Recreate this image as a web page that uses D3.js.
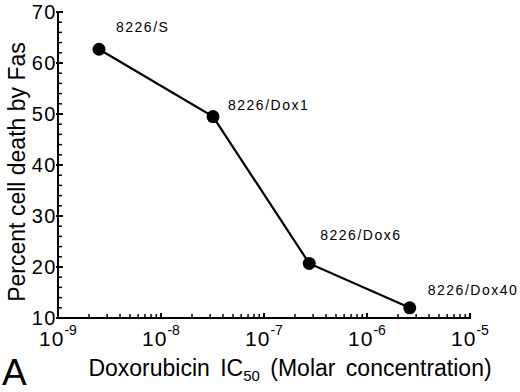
<!DOCTYPE html>
<html>
<head>
<meta charset="utf-8">
<script src="https://cdn.jsdelivr.net/npm/d3@7"></script>
<style>
  body { margin: 0; background: #fff; }
  svg { display: block; font-family: "Liberation Sans", Arial, Helvetica, sans-serif; }
</style>
</head>
<body>
<div id="chart"></div>
<script>
// data
const cellLines = ["8226/S", "8226/Dox1", "8226/Dox6", "8226/Dox40"];
const ic50 = [2.5e-9, 3.2e-8, 2.75e-7, 2.6e-6];
const fasDeath = [62.7, 49.5, 20.7, 12.0];
const yTicks = [10, 20, 30, 40, 50, 60, 70];
const xExponents = [-9, -8, -7, -6, -5];

// where each point label sits relative to its dot (px)
const labelNudge = [[17, -17], [15, -7], [11, -23], [18, -13]];

const width = 520, height = 392;

const svg = d3.select("#chart")
  .append("svg")
    .attr("width", width)
    .attr("height", height);

// scales
const x = d3.scaleLog()
  .domain([1e-9, 1e-5])
  .range([58, 470]);

const y = d3.scaleLinear()
  .domain([10, 70])
  .range([318, 12]);

// minor ticks
const yMinor = d3.range(10, 70, 2).filter(v => v % 10 != 0);
const xMinor = [];
xExponents.slice(0, -1).forEach(e => {
  for (let k = 2; k <= 9; k++) xMinor.push(k * Math.pow(10, e));
});

const axes = svg.append("g")
  .attr("stroke", "#000")
  .attr("stroke-width", 2);

// y axis line + ticks
axes.append("line")
  .attr("x1", x.range()[0]).attr("x2", x.range()[0])
  .attr("y1", y(70) - 1).attr("y2", y(10) + 1);

axes.selectAll(".ymaj")
  .data(yTicks)
  .join("line")
    .attr("x1", x.range()[0] - 2).attr("x2", x.range()[0] + 5)
    .attr("y1", d => y(d)).attr("y2", d => y(d));

axes.selectAll(".ymin")
  .data(yMinor)
  .join("line")
    .attr("class", "ymin")
    .attr("stroke-width", 1.5)
    .attr("x1", x.range()[0]).attr("x2", x.range()[0] + 4)
    .attr("y1", d => y(d)).attr("y2", d => y(d));

// x axis line + ticks
axes.append("line")
  .attr("x1", x.range()[0] - 1).attr("x2", x.range()[1] + 1)
  .attr("y1", y(10)).attr("y2", y(10));

axes.selectAll(".xmaj")
  .data(xExponents)
  .join("line")
    .attr("class", "xmaj")
    .attr("x1", d => x(Math.pow(10, d))).attr("x2", d => x(Math.pow(10, d)))
    .attr("y1", y(10)).attr("y2", y(10) - 5);

axes.selectAll(".xmin")
  .data(xMinor)
  .join("line")
    .attr("class", "xmin")
    .attr("stroke-width", 1.5)
    .attr("x1", d => x(d)).attr("x2", d => x(d))
    .attr("y1", y(10)).attr("y2", y(10) - 4);

// y tick labels
svg.append("g")
  .selectAll("text")
  .data(yTicks)
  .join("text")
    .attr("x", x.range()[0] - 1)
    .attr("y", d => y(d) + 7)
    .attr("text-anchor", "end")
    .attr("font-size", 20)
    .attr("letter-spacing", 1.5)
    .text(d => d);

// x tick labels 10^n
const xl = svg.append("g")
  .selectAll("text")
  .data(xExponents)
  .join("text")
    .attr("x", d => x(Math.pow(10, d)))
    .attr("y", 346)
    .attr("text-anchor", "middle")
    .attr("font-size", 21);
xl.append("tspan").attr("letter-spacing", 1).text("10");
xl.append("tspan")
  .attr("font-size", 14)
  .attr("dy", -11)
  .text(d => d);

// line + dots
const pts = cellLines.map((name, i) => ({ name, x: ic50[i], y: fasDeath[i], i }));

svg.append("path")
  .datum(pts)
  .attr("fill", "none")
  .attr("stroke", "#000")
  .attr("stroke-width", 2.2)
  .attr("d", d3.line().x(d => x(d.x)).y(d => y(d.y)));

svg.selectAll(".dot")
  .data(pts)
  .join("circle")
    .attr("class", "dot")
    .attr("cx", d => x(d.x))
    .attr("cy", d => y(d.y))
    .attr("r", 6.5)
    .attr("fill", "#000");

svg.selectAll(".lbl")
  .data(pts)
  .join("text")
    .attr("class", "lbl")
    .attr("x", d => x(d.x) + labelNudge[d.i][0])
    .attr("y", d => y(d.y) + labelNudge[d.i][1])
    .attr("font-size", 14)
    .attr("letter-spacing", 1.5)
    .text(d => d.name);

// axis titles
const xt = svg.append("text")
  .attr("x", 290)
  .attr("y", 376)
  .attr("text-anchor", "middle")
  .attr("font-size", 23)
  .attr("word-spacing", 4);
xt.append("tspan").text("Doxorubicin IC");
xt.append("tspan").attr("font-size", 15).attr("dy", 5).text("50");
xt.append("tspan").attr("dy", -5).text(" (Molar concentration)");

svg.append("text")
  .attr("transform", "translate(25,172) rotate(-90)")
  .attr("text-anchor", "middle")
  .attr("font-size", 23)
  .text("Percent cell death by Fas");

// panel letter
svg.append("text")
  .attr("x", 2)
  .attr("y", 385)
  .attr("font-size", 37)
  .text("A");
</script>
</body>
</html>
